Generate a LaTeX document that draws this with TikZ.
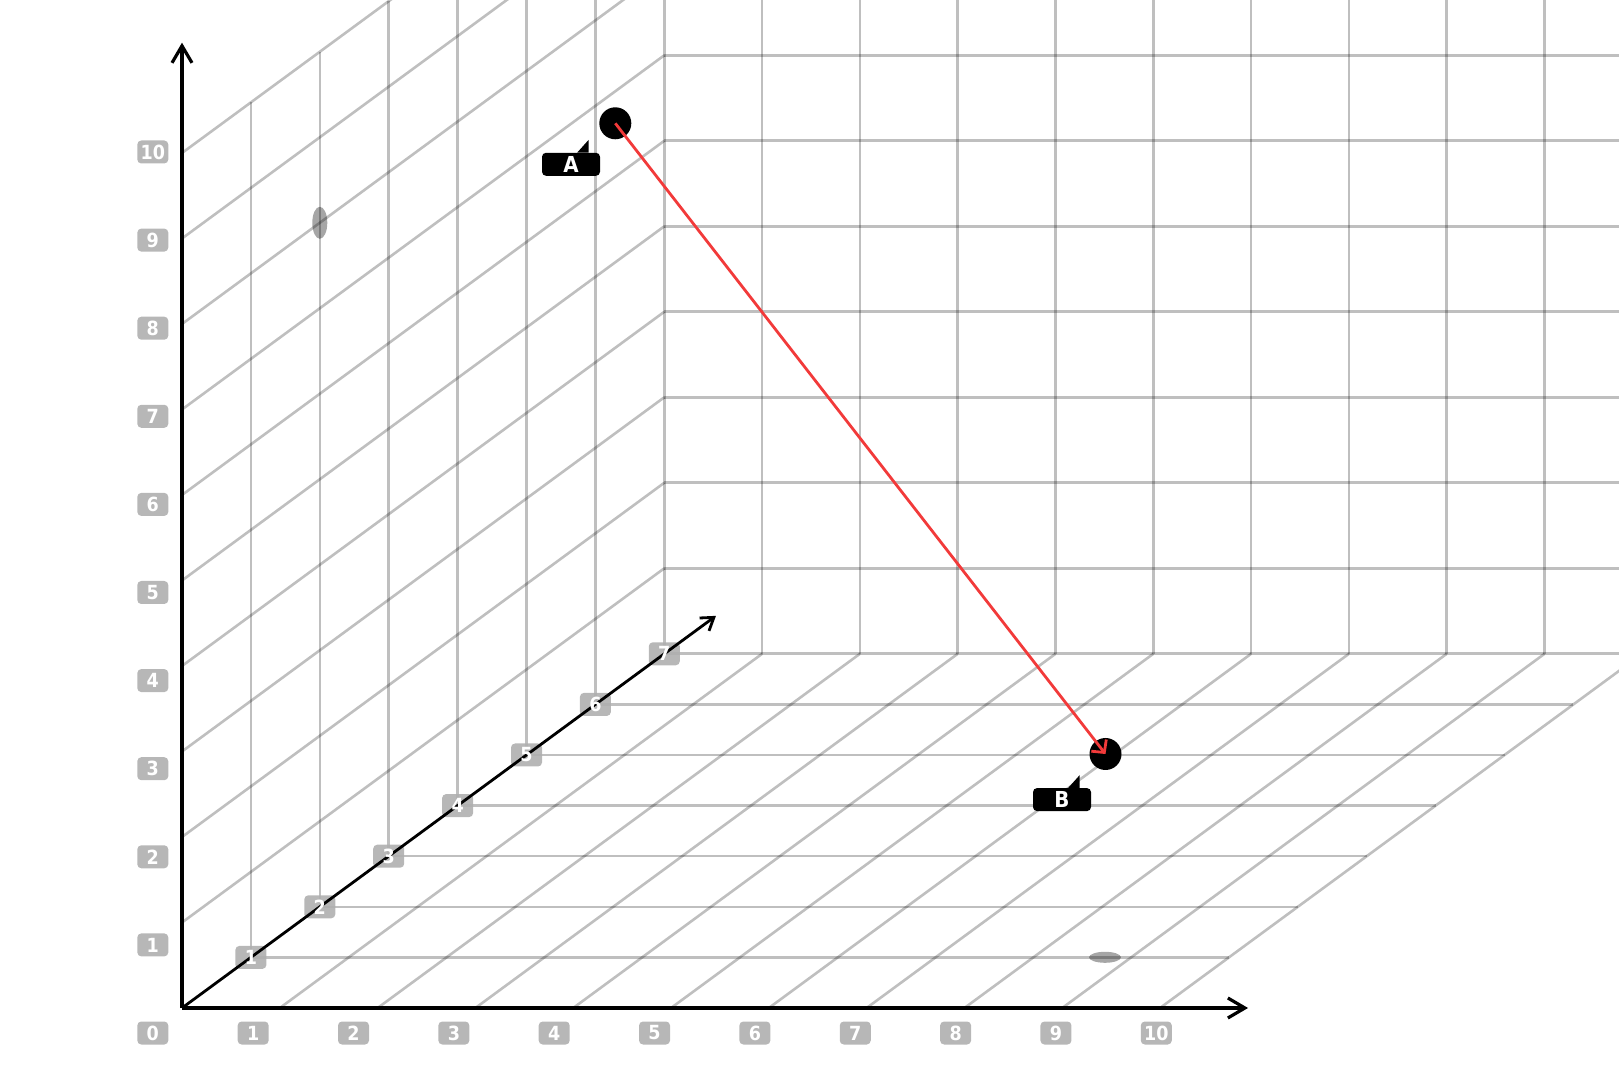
\documentclass[tikz,border=0pt]{standalone}
\usepackage{fontspec}
\setsansfont{DejaVu Sans Condensed}
\usepackage{xcolor}
\usepackage{tikz}
\usetikzlibrary{arrows.meta,positioning,shapes.geometric}
\definecolor{tickgray}{HTML}{AFAFAF}
\definecolor{movered}{HTML}{F23A3A}

\begin{document}
\begin{tikzpicture}[
  x={(97.8pt,0pt)}, y={(0pt,85.5pt)}, z={(68.9pt,50.6pt)},
  font=\sffamily\bfseries,
  gridline/.style={draw=black, draw opacity=0.25, line width=2.6pt},
  axis/.style={line width=3.2pt, -{Straight Barb[length=17pt,width=20pt]}},
  zaxis/.style={line width=2.8pt, -{Straight Barb[length=12pt,width=16pt]}},
  tick/.style={fill=tickgray, fill opacity=0.9, text opacity=1, text=white, rounded corners=4pt, minimum width=31pt, minimum height=23pt, inner sep=0pt, font=\sffamily\bfseries\fontsize{19.5}{19.5}\selectfont},
  ticknum/.style={text=white, inner sep=0pt, font=\sffamily\bfseries\fontsize{19.5}{19.5}\selectfont},
  dot/.style={circle, fill=black, minimum size=32pt, inner sep=0pt},
  tag/.style={fill=black, text=white, rounded corners=4pt, minimum width=58pt, minimum height=23pt, inner sep=0pt, font=\sffamily\bfseries\fontsize{22}{22}\selectfont},
  shadow/.style={ellipse, fill=black, fill opacity=0.35, inner sep=0pt},
  move/.style={draw=movered, line width=2.8pt, -{Straight Barb[length=9pt,width=19pt]}}
]
  \useasboundingbox (-182pt,-71pt) rectangle (1437pt,1008pt);

  % grid on floor, left wall and back wall
  \begin{scope}
    \clip (-182pt,-71pt) rectangle (1437pt,1008pt);
    \foreach \i in {1,...,10} \draw[gridline] (\i,0,0) -- (\i,0,7);
    \foreach \n in {1,...,7} \draw[gridline] (0,0,\n) -- (10,0,\n);
    \foreach \j in {1,...,10} \draw[gridline] (0,\j,0) -- (0,\j,7);
    \foreach \n in {1,...,7} \draw[gridline] (0,0,\n) -- (0,10,\n);
    \foreach \i in {1,...,10} \draw[gridline] (\i,0,7) -- (\i,12,7);
    \foreach \j in {1,...,10} \draw[gridline] (0,\j,7) -- (10,\j,7);
  \end{scope}

  \foreach \n in {1,...,7} \node[tick] (zt\n) at (0,0,\n) {};

  % axes
  \coordinate (O) at (0,0,0);
  \coordinate (xend) at (10.9,0,0);
  \coordinate (yend) at (0,11.29,0);
  \coordinate (zend) at (0,0,7.75);
  \draw[axis] (O) -- (xend);
  \draw[axis] (O) -- (yend);
  \draw[zaxis] (O) -- (zend);

  \foreach \n in {1,...,7} \node[ticknum] (ztn\n) at (zt\n) {\n};
  \foreach \i in {0,...,10} \node[tick] (xt\i) at ({-29.2pt+100.35pt*\i},-25pt) {\i};
  \foreach \j in {1,...,10} \node[tick] (yt\j) at (-29.2pt,{-25pt+88.1pt*\j}) {\j};

  % shadows of the two points
  \node[shadow, minimum width=15pt, minimum height=32pt] (shadowA) at (0,8,2) {};
  \node[shadow, minimum width=32pt, minimum height=11pt] (shadowB) at (923pt,50.7pt) {};

  \node[dot] (A) at (433.3pt,884.7pt) {};
  \node[dot] (B) at (923.5pt,254pt) {};
  \draw[move] (A.center) -- (B.center);

  \node[tag] (tagA) at ([shift={(-44.3pt,-41pt)}]A.center) {A};
  \fill (tagA.north east) ++(-23pt,0) -- ++(11.5pt,12.8pt) -- ++(0,-12.8pt) -- cycle;
  \node[tag] (tagB) at ([shift={(-43.5pt,-45.6pt)}]B.center) {B};
  \fill (tagB.north east) ++(-23pt,0) -- ++(11.5pt,12.8pt) -- ++(0,-12.8pt) -- cycle;
\end{tikzpicture}
\end{document}
